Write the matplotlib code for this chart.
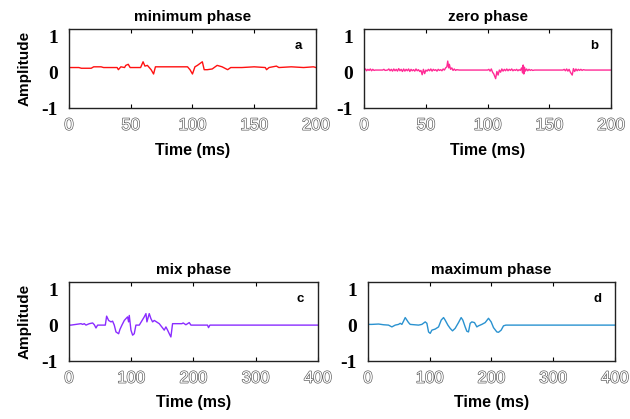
import matplotlib.pyplot as plt
import matplotlib.patheffects as pe

# minimum phase wavelet (time in ms, amplitude)
t_min = [0, 8, 10, 18, 20, 26, 28, 39, 40, 42, 45, 46, 48, 49.5, 52, 58, 60,
         61.5, 63.5, 66.5, 68.5, 70, 96, 98, 100, 102, 104, 106, 108, 109.5,
         112, 116, 120, 124, 128.5, 131, 140, 150, 159, 160, 162, 168, 170,
         180, 190, 198, 200]
a_min = [0.13, 0.13, 0.11, 0.11, 0.15, 0.15, 0.13, 0.13, 0.07, 0.15, 0.13,
         0.19, 0.22, 0.13, 0.13, 0.13, 0.29, 0.17, 0.19, 0.07, -0.05, 0.15,
         0.15, 0.07, -0.05, 0.15, 0.19, 0.24, 0.29, 0.07, 0.07, 0.09, 0.19,
         0.15, 0.07, 0.13, 0.13, 0.15, 0.13, 0.07, 0.13, 0.17, 0.13, 0.15,
         0.13, 0.15, 0.13]

# zero phase wavelet
t_zero = [0, 1, 2, 3, 4, 5, 6, 7, 8, 9, 15, 16, 17, 19, 20, 21, 22, 23, 24,
          25, 26, 27, 28, 29, 30, 31, 32, 33, 34, 35, 36, 37, 38, 39, 40, 41,
          42, 43, 44, 45, 46, 47, 48, 49, 50, 51, 52, 53, 54, 55, 56, 57, 58,
          59, 60, 61, 62, 63, 64, 65, 66, 67, 67.7, 68.5, 69, 70, 71, 72, 73,
          74, 75, 77, 100, 101, 102, 103, 104, 105, 106.5, 107.5, 108.5,
          109.5, 110.5, 111.5, 112.5, 113.5, 114.5, 115.5, 116.5, 117.5,
          118.5, 119.5, 120.5, 121.5, 122.5, 123.5, 124.5, 125.5, 126.5,
          127.5, 128.3, 128.8, 129.3, 129.8, 130.5, 131.5, 132.5, 133.5,
          134.5, 135.5, 136.5, 138, 161, 162, 163, 164, 165, 166, 167, 168.5,
          169.5, 170.5, 171.5, 172.5, 173.5, 174.5, 175.5, 176.5, 177.5, 179,
          200]
a_zero = [0.06, 0.09, 0.04, 0.08, 0.05, 0.09, 0.04, 0.08, 0.05, 0.06, 0.06,
          0.08, 0.05, 0.06, 0.09, 0.04, 0.08, 0.03, 0.09, 0.04, 0.08, 0.03,
          0.1, 0.04, 0.08, 0.02, 0.09, 0.03, 0.08, 0.04, 0.09, 0.02, 0.08,
          0.04, 0.07, 0.03, 0.09, 0.04, 0.07, 0.02, 0.05, -0.07, 0.08, -0.04,
          0.06, 0.03, 0.08, 0.04, 0.09, 0.03, 0.08, 0.05, 0.07, 0.03, 0.08,
          0.05, 0.07, 0.04, 0.09, 0.06, 0.12, 0.15, 0.31, 0.12, 0.22, 0.08,
          0.12, 0.05, 0.09, 0.05, 0.07, 0.06, 0.06, 0.08, 0.03, 0.09, 0.0,
          -0.05, -0.18, 0.02, -0.08, 0.06, 0.0, 0.09, 0.03, 0.08, 0.04, 0.09,
          0.04, 0.08, 0.05, 0.09, 0.04, 0.07, 0.05, 0.08, 0.04, 0.07, 0.05,
          0.12, -0.02, 0.2, -0.05, 0.14, 0.03, 0.09, 0.04, 0.08, 0.05, 0.07,
          0.05, 0.06, 0.06, 0.08, 0.04, 0.09, 0.03, 0.08, 0.0, -0.08, 0.1,
          0.02, 0.09, 0.04, 0.08, 0.05, 0.08, 0.05, 0.07, 0.06, 0.06]

# mix phase wavelet
t_mix = [0, 3.2, 19.3, 22, 24.6, 27.3, 32.7, 38.0, 40.7, 43.4, 46.0, 58.4,
         60.5, 63.7, 67.5, 70.1, 72.8, 75.5, 79.8, 81.9, 85.1, 88.9, 91.5,
         94.2, 95.8, 96.9, 99.6, 102.3, 104.9, 107.6, 113, 121, 123.7, 125.3,
         129, 131.7, 134.4, 137.1, 145.1, 150.5, 153.1, 155.8, 158.5, 161.2,
         163.8, 166.5, 181.5, 183.6, 187.9, 190.6, 193.3, 196, 222.7, 224.3,
         226.5, 400]
a_mix = [0, 0, 0.04, 0.02, 0.04, 0, 0.04, 0.06, 0.01, -0.08, 0, 0, 0.25,
         0.13, 0.09, 0.11, 0, -0.19, -0.24, -0.12, 0, 0.13, 0.18, 0.23, 0.09,
         0.27, -0.14, -0.28, -0.24, 0, 0, 0.23, 0.32, 0.09, 0.32, 0.18, 0.09,
         0.13, 0.04, -0.08, -0.14, -0.05, -0.14, -0.24, -0.33, 0.04, 0.04,
         0.06, 0.01, 0.04, 0.07, 0, 0, -0.07, 0, 0]

# maximum phase wavelet
t_max = [0, 1.0, 6.4, 17.2, 25.3, 33.4, 38.8, 44.2, 49.6, 52.3, 55, 57.7,
         60.4, 63.1, 65.8, 68.5, 82.0, 87.4, 92.8, 95.5, 98.2, 100.9, 103.6,
         109, 114.4, 118.7, 122.5, 125.1, 129.5, 133.2, 137, 141.3, 146.7,
         151, 153.7, 157.5, 160.2, 162.9, 165.6, 168.3, 172.6, 176.4, 179.1,
         184.5, 189.9, 195.3, 199.6, 203.4, 208.8, 211.5, 215.8, 219.6,
         223.4, 400]
a_max = [0.01, 0.02, 0.02, 0.03, 0.01, 0, -0.05, 0, 0.02, 0.05, 0.02, 0.11,
         0.21, 0.14, 0.07, 0.02, 0, 0.02, 0.09, 0.05, -0.19, -0.23, -0.14,
         -0.11, -0.05, 0.14, 0.21, 0.14, 0, -0.09, -0.16, -0.09, 0.07, 0.21,
         0.14, -0.05, -0.17, -0.19, 0.05, 0.09, 0.07, -0.05, -0.02, 0.02,
         0.07, 0.19, 0.09, -0.07, -0.19, -0.2, -0.14, -0.02, 0, 0]

panels = [
    (t_min, a_min, "#ff1010", "minimum phase", "a", 200, [0, 50, 100, 150, 200]),
    (t_zero, a_zero, "#ff2a95", "zero phase", "b", 200, [0, 50, 100, 150, 200]),
    (t_mix, a_mix, "#8a2cff", "mix phase", "c", 400, [0, 100, 200, 300, 400]),
    (t_max, a_max, "#2a92d0", "maximum phase", "d", 400, [0, 100, 200, 300, 400]),
]
rects = [
    [0.1095, 0.742, 0.392, 0.1885],
    [0.578, 0.742, 0.392, 0.1885],
    [0.1095, 0.1384, 0.395, 0.1885],
    [0.584, 0.1384, 0.392, 0.1885],
]

fig = plt.figure(figsize=(6.3, 4.19), dpi=100)
hollow = [pe.withStroke(linewidth=0.9, foreground="#555555")]

for i, (t, a, col, title, letter, xmax, xt) in enumerate(panels):
    ax = fig.add_axes(rects[i])
    ax.plot(t, a, color=col, lw=1.0)
    ax.set_xlim(0, xmax)
    ax.set_ylim(-1, 1.2)
    ax.set_xticks(xt)
    ax.set_xticklabels([str(v) for v in xt], fontsize=12,
                       family="Liberation Sans", color="white",
                       path_effects=hollow)
    ax.set_yticks([-1, 0, 1])
    ax.set_yticklabels(["-1", "0", "1"], fontsize=14,
                       family="Liberation Serif", fontweight="bold")
    ax.tick_params(axis="x", direction="in", length=3, top=True, pad=7)
    ax.tick_params(axis="y", length=0, pad=8)
    for s in ax.spines.values():
        s.set_linewidth(1.0)
        s.set_color("#222222")
    ax.set_title(title, fontsize=11, fontweight="bold",
                 family="Liberation Sans", pad=6)
    ax.set_xlabel("Time (ms)", fontsize=11.5, fontweight="bold",
                  family="Liberation Sans", labelpad=7)
    if i % 2 == 0:
        ax.set_ylabel("Amplitude", fontsize=11, fontweight="bold",
                      family="Liberation Sans", labelpad=7)
    ax.text(0.93, 0.78, letter, transform=ax.transAxes, fontsize=9.5,
            fontweight="bold", family="Liberation Sans", ha="center",
            va="center")

fig.savefig("out.png", dpi=100)
